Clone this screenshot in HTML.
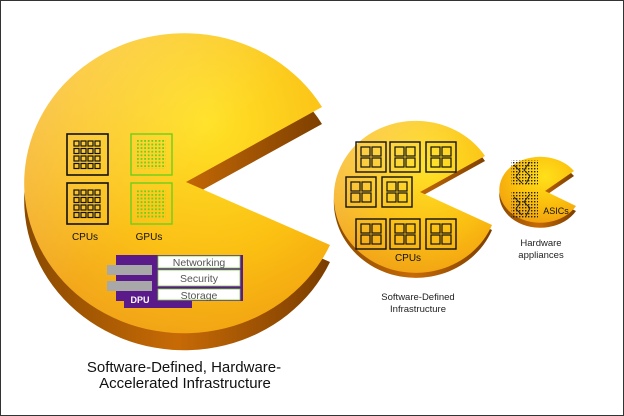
<!DOCTYPE html>
<html><head><meta charset="utf-8"><style>
html,body{margin:0;padding:0;background:#fff}
svg{display:block}
text{font-family:"Liberation Sans","DejaVu Sans",sans-serif}
</style></head><body>
<svg width="624" height="416" viewBox="0 0 624 416" xmlns="http://www.w3.org/2000/svg">
<defs>
<radialGradient id="top" cx="0.6" cy="0.3" r="0.8">
<stop offset="0" stop-color="#ffe01a"/><stop offset="0.55" stop-color="#fbbd0c"/><stop offset="1" stop-color="#ef9a10"/>
</radialGradient>
<linearGradient id="side" x1="0" y1="0" x2="1" y2="0">
<stop offset="0" stop-color="#8a4a00"/><stop offset="0.5" stop-color="#c76a06"/><stop offset="1" stop-color="#7a3d00"/>
</linearGradient>
<linearGradient id="gloss" x1="0" y1="0" x2="1" y2="1">
<stop offset="0" stop-color="#fff" stop-opacity="0.35"/><stop offset="0.5" stop-color="#fff" stop-opacity="0.05"/><stop offset="1" stop-color="#fff" stop-opacity="0"/>
</linearGradient>
<g id="mc" stroke="#111" fill="none">
<rect x="0" y="0" width="30" height="30" stroke-width="1.4"/>
<rect x="5" y="5" width="9" height="9" stroke-width="1.2"/><rect x="16" y="5" width="9" height="9" stroke-width="1.2"/>
<rect x="5" y="16" width="9" height="9" stroke-width="1.2"/><rect x="16" y="16" width="9" height="9" stroke-width="1.2"/>
</g>
<pattern id="gd" width="3.6" height="3.6" patternUnits="userSpaceOnUse" x="137" y="140"><rect width="1.8" height="1.8" fill="#6ccf1a"/></pattern>
<pattern id="ad" width="3" height="3" patternUnits="userSpaceOnUse"><rect width="1.4" height="1.4" fill="#222"/></pattern>
</defs>
<rect x="0.5" y="0.5" width="623" height="415" fill="#fff" stroke="#333"/>

<!-- big pacman: center (185,182) rx160 ry150 -->
<path d="M186 199 L322 124 A160 150 0 1 0 330 262 Z" fill="url(#side)"/>
<path d="M186 182 L322 107 A160 150 0 1 0 330 245 Z" fill="url(#top)"/>
<path d="M186 182 L322 107 A160 150 0 1 0 330 245 Z" fill="url(#gloss)"/>

<!-- medium: center (416,197) rx82 ry76 -->
<path d="M420 197 L485 161 A82 76 0 1 0 492 230 Z" fill="url(#side)"/>
<path d="M420 192 L485 156 A82 76 0 1 0 492 225 Z" fill="url(#top)"/>
<path d="M420 192 L485 156 A82 76 0 1 0 492 225 Z" fill="url(#gloss)"/>

<!-- small: center (540,190) rx41 ry33 -->
<path d="M545 196 L574 176 A41 33 0 1 0 576 211 Z" fill="url(#side)"/>
<path d="M545 191 L574 171 A41 33 0 1 0 576 206 Z" fill="url(#top)"/>

<!-- big CPUs -->
<g stroke="#111" fill="none">
<rect x="67" y="134" width="41" height="41" stroke-width="1.6"/>
<rect x="67" y="183" width="41" height="41" stroke-width="1.6"/>
</g>
<g fill="none" stroke="#111" stroke-width="1.2">
<g id="cg">
<rect x="74" y="141" width="5" height="5"/><rect x="81" y="141" width="5" height="5"/><rect x="88" y="141" width="5" height="5"/><rect x="95" y="141" width="5" height="5"/>
<rect x="74" y="148.5" width="5" height="5"/><rect x="81" y="148.5" width="5" height="5"/><rect x="88" y="148.5" width="5" height="5"/><rect x="95" y="148.5" width="5" height="5"/>
<rect x="74" y="156" width="5" height="5"/><rect x="81" y="156" width="5" height="5"/><rect x="88" y="156" width="5" height="5"/><rect x="95" y="156" width="5" height="5"/>
<rect x="74" y="163.5" width="5" height="5"/><rect x="81" y="163.5" width="5" height="5"/><rect x="88" y="163.5" width="5" height="5"/><rect x="95" y="163.5" width="5" height="5"/>
</g>
<use href="#cg" y="49"/>
</g>
<!-- GPUs -->
<g stroke="#6ccf1a" fill="none" stroke-width="1.4">
<rect x="131" y="134" width="41" height="41"/><rect x="131" y="183" width="41" height="41"/>
</g>
<rect x="137" y="140" width="29" height="29" fill="url(#gd)"/>
<rect x="137" y="189" width="29" height="29" fill="url(#gd)"/>
<text x="85" y="240" font-size="10" text-anchor="middle" fill="#111">CPUs</text>
<text x="149" y="240" font-size="10" text-anchor="middle" fill="#111">GPUs</text>

<!-- DPU -->
<rect x="116" y="255" width="127" height="46" fill="#5a1a8a"/>
<rect x="124" y="298" width="68" height="10" fill="#5a1a8a"/>
<rect x="107" y="265" width="45" height="10" fill="#a8a8a8"/>
<rect x="107" y="281" width="45" height="10" fill="#a8a8a8"/>
<rect x="158" y="256" width="82" height="12" fill="#fff" stroke="#7ac943" stroke-width="0.8"/>
<rect x="158" y="270" width="82" height="16" fill="#fff" stroke="#7ac943" stroke-width="0.8"/>
<rect x="158" y="289" width="82" height="11" fill="#fff" stroke="#7ac943" stroke-width="0.8"/>
<text x="199" y="266" font-size="10.5" text-anchor="middle" fill="#555">Networking</text>
<text x="199" y="282" font-size="10.5" text-anchor="middle" fill="#555">Security</text>
<text x="199" y="299" font-size="10.5" text-anchor="middle" fill="#555">Storage</text>
<text x="140" y="303" font-size="9" font-weight="bold" text-anchor="middle" fill="#fff">DPU</text>

<!-- medium CPUs -->
<use href="#mc" x="356" y="142"/>
<use href="#mc" x="390" y="142"/><use href="#mc" x="426" y="142"/>
<use href="#mc" x="346" y="177"/><use href="#mc" x="382" y="177"/>
<use href="#mc" x="356" y="219"/><use href="#mc" x="390" y="219"/><use href="#mc" x="426" y="219"/>
<text x="408" y="261" font-size="10" text-anchor="middle" fill="#111">CPUs</text>

<!-- ASICs -->
<rect x="511" y="160" width="27" height="26" fill="url(#ad)"/>
<rect x="511" y="192" width="27" height="26" fill="url(#ad)"/>
<path d="M514 165 l6 6 l-4 6 l6 6 M530 162 l-6 8 l6 6 l-4 8 M514 197 l6 6 l-4 6 l6 6 M530 194 l-6 8 l6 6 l-4 8" stroke="#222" fill="none" stroke-width="1"/>
<text x="556" y="214" font-size="9" text-anchor="middle" fill="#111">ASICs</text>

<text x="541" y="246" font-size="9.5" text-anchor="middle" fill="#222">Hardware</text>
<text x="541" y="258" font-size="9.5" text-anchor="middle" fill="#222">appliances</text>
<text x="418" y="300" font-size="9.5" text-anchor="middle" fill="#222">Software-Defined</text>
<text x="418" y="312" font-size="9.5" text-anchor="middle" fill="#222">Infrastructure</text>
<text x="184" y="372" font-size="15" text-anchor="middle" fill="#111">Software-Defined, Hardware-</text>
<text x="185" y="388" font-size="15" text-anchor="middle" fill="#111">Accelerated Infrastructure</text>
</svg>
</body></html>
